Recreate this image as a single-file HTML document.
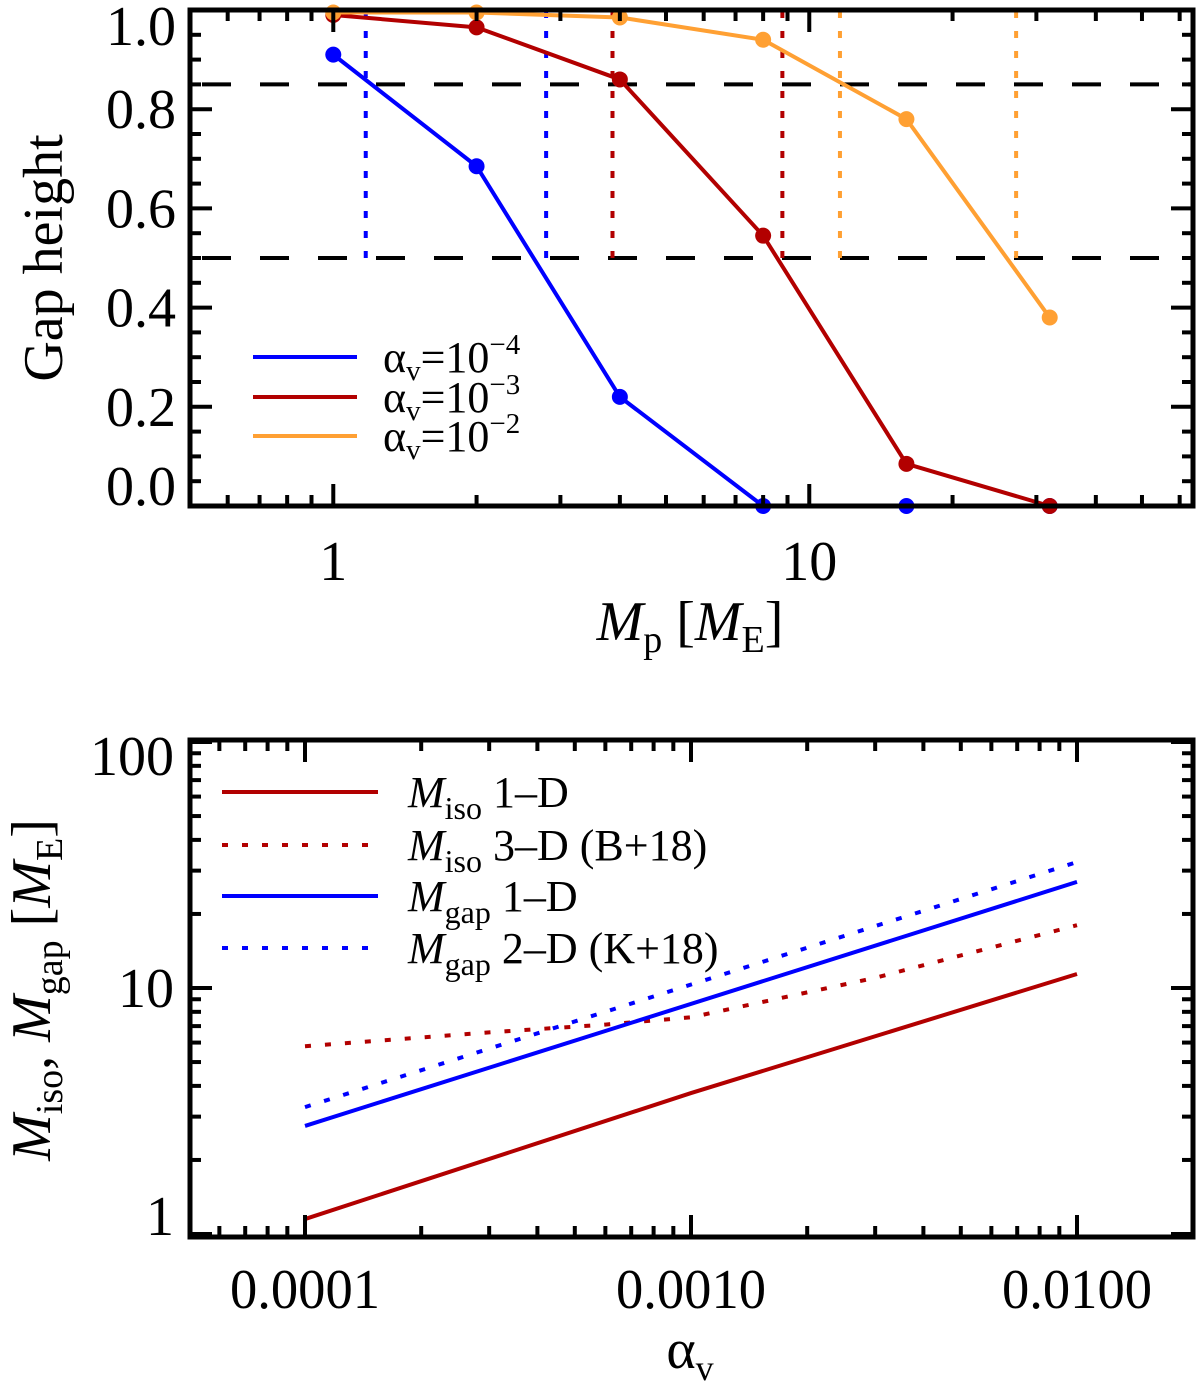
<!DOCTYPE html>
<html><head><meta charset="utf-8"><style>
html,body{margin:0;padding:0;background:#fff;}
svg{display:block;font-family:"Liberation Serif","DejaVu Serif",serif;}
</style></head><body>
<svg id="fig" width="1200" height="1384" viewBox="0 0 1200 1384" xmlns="http://www.w3.org/2000/svg"></svg>
<script>
// ---- Top panel data ----
const topMasses = [1, 2, 4, 8, 16, 32];
const gapLowVisc = [0.91, 0.685, 0.22, 0.0, 0.0, 0.0];
const gapMidVisc = [0.99, 0.965, 0.86, 0.545, 0.085, 0.0];
const gapHighVisc = [0.995, 0.995, 0.985, 0.94, 0.78, 0.38];
const gapThresholds = [0.85, 0.5];
const critLowVisc = [1.17, 2.8];
const critMidVisc = [3.86, 8.78];
const critHighVisc = [11.6, 27.2];
const topYTicks = [0.0, 0.2, 0.4, 0.6, 0.8, 1.0];
const topYLabels = ["0.0", "0.2", "0.4", "0.6", "0.8", "1.0"];
const topXTicks = [1, 10];
const topXLabels = ["1", "10"];
// ---- Bottom panel data ----
const alphaIso1D = [1e-4, 1e-3, 1e-2];
const mIso1D = [1.15, 3.74, 11.4];
const alphaIso3D = [1e-4, 3e-4, 6e-4, 1e-3, 3e-3, 1e-2];
const mIso3D = [5.8, 6.6, 7.1, 7.6, 11.0, 18.0];
const alphaGap1D = [1e-4, 1e-2];
const mGap1D = [2.75, 27.0];
const alphaGap2D = [1e-4, 1e-2];
const mGap2D = [3.28, 32.5];
const botYTicks = [1, 10, 100];
const botYLabels = ["1", "10", "100"];
const botXTicks = [1e-4, 1e-3, 1e-2];
const botXLabels = ["0.0001", "0.0010", "0.0100"];

const NS = "http://www.w3.org/2000/svg";
const svg = document.getElementById("fig");
function mk(tag, attrs, parent) {
  const e = document.createElementNS(NS, tag);
  for (const k in attrs) e.setAttribute(k, attrs[k]);
  (parent || svg).appendChild(e);
  return e;
}
const BLUE = "#0000ff", RED = "#b20000", ORANGE = "#ffa033";

const T = {l:190, r:1193, t:10, b:506};
const tx = v => T.l + (Math.log10(v) - Math.log10(0.5)) / (Math.log10(64) - Math.log10(0.5)) * (T.r - T.l);
const ty = v => T.b - v * (T.b - T.t);
const B = {l:190, r:1193, t:740, b:1237};
const bx = v => 305 + (Math.log10(v) + 4) * 386;
const by = v => 988 - 246 * (Math.log10(v) - 1);

const topG = mk("g", {});



gapThresholds.forEach(v => {
  const l = mk("line", {x1:T.l, x2:T.r, y1:ty(v), y2:ty(v), stroke:"#000", "stroke-width":4, "stroke-dasharray":"29 29", "stroke-dashoffset":"-12"}, topG);
  
  
});
[[critLowVisc, BLUE], [critMidVisc, RED], [critHighVisc, ORANGE]].forEach(([arr, c]) => {
  arr.forEach(m => {
    const l = mk("line", {x1:tx(m), x2:tx(m), y1:ty(0.5), y2:ty(1.0), stroke:c, "stroke-width":4, "stroke-dasharray":"7 13"}, topG);
    
    
  });
});
[[gapLowVisc, BLUE, 'series-alpha-1e-4'], [gapMidVisc, RED, 'series-alpha-1e-3'], [gapHighVisc, ORANGE, 'series-alpha-1e-2']].forEach(([arr, c, n]) => {
  const g = mk("g", {}, topG);
  
  
  const pts = topMasses.map((m, i) => tx(m) + "," + ty(arr[i])).join(" ");
  mk("polyline", {points:pts, fill:"none", stroke:c, "stroke-width":4, "stroke-linejoin":"round"}, g);
  topMasses.forEach((m, i) => {
    const p = mk("circle", {cx:tx(m), cy:ty(arr[i]), r:8, fill:c}, g);
    
    
  });
});
const tf = mk("rect", {x:T.l, y:T.t, width:T.r - T.l, height:T.b - T.t, fill:"none", stroke:"#000", "stroke-width":5}, topG);


for (let k = 0; k <= 20; k++) {
  const v = k * 0.05, y = ty(v), len = (k % 4 === 0) ? 22 : 11;
  mk("line", {x1:T.l, x2:T.l + len, y1:y, y2:y, stroke:"#000", "stroke-width":4}, topG);
  mk("line", {x1:T.r, x2:T.r - len, y1:y, y2:y, stroke:"#000", "stroke-width":4}, topG);
}
topYTicks.forEach((v, i) => {
  let yy = ty(v) + 19;
  if (yy < 45) yy = 45;
  if (yy > 505) yy = 505;
  const t = mk("text", {x:176, y:yy, "font-size":56, "text-anchor":"end"}, topG);
  t.textContent = topYLabels[i];
  
  
});
[0.5,0.6,0.7,0.8,0.9,1,2,3,4,5,6,7,8,9,10,20,30,40,50,60].forEach(m => {
  const x = tx(m), len = (m === 1 || m === 10) ? 22 : 11;
  mk("line", {x1:x, x2:x, y1:T.b, y2:T.b - len, stroke:"#000", "stroke-width":4}, topG);
  mk("line", {x1:x, x2:x, y1:T.t, y2:T.t + len, stroke:"#000", "stroke-width":4}, topG);
});
topXTicks.forEach((v, i) => {
  const t = mk("text", {x:tx(v), y:580, "font-size":56, "text-anchor":"middle"}, topG);
  t.textContent = topXLabels[i];
  
  
});
let tt = mk("text", {x:690, y:640, "font-size":56, "text-anchor":"middle"}, topG);
tt.innerHTML = '<tspan font-style="italic">M</tspan><tspan font-size="38" dy="12">p</tspan><tspan dy="-12"> [</tspan><tspan font-style="italic">M</tspan><tspan font-size="38" dy="12">E</tspan><tspan dy="-12">]</tspan>';


tt = mk("text", {x:0, y:0, "font-size":56, "text-anchor":"middle", transform:"translate(62,258) rotate(-90)"}, topG);
tt.textContent = "Gap height";


[["−4", BLUE, 357], ["−3", RED, 397], ["−2", ORANGE, 436]].forEach(([e, c, y]) => {
  const g = mk("g", {}, topG);
  
  
  mk("line", {x1:253, x2:357, y1:y, y2:y, stroke:c, "stroke-width":4}, g);
  const t = mk("text", {x:383, y:y + 15, "font-size":44}, g);
  t.innerHTML = 'α<tspan font-size="29" dy="8">v</tspan><tspan dy="-8">=10</tspan><tspan font-size="29" dy="-18">' + e + '</tspan>';
});

// ---- Bottom panel ----
const botG = mk("g", {});


[[alphaIso1D, mIso1D, RED, null, 'line-miso-1d'], [alphaIso3D, mIso3D, RED, "6 14", 'line-miso-3d'],
 [alphaGap1D, mGap1D, BLUE, null, 'line-mgap-1d'], [alphaGap2D, mGap2D, BLUE, "6 14", 'line-mgap-2d']].forEach(([xs, ys, c, d, n]) => {
  const pts = xs.map((a, i) => bx(a) + "," + by(ys[i])).join(" ");
  const attrs = {points:pts, fill:"none", stroke:c, "stroke-width":4};
  if (d) attrs["stroke-dasharray"] = d;
  const p = mk("polyline", attrs, botG);
  
  
});
const bf = mk("rect", {x:B.l, y:B.t, width:B.r - B.l, height:B.b - B.t, fill:"none", stroke:"#000", "stroke-width":5}, botG);


for (let dec = 0; dec < 2; dec++) {
  for (let k = 1; k <= 10; k++) {
    const v = k * Math.pow(10, dec), y = by(v);
    if (y < B.t - 1 || y > B.b + 1) continue;
    const len = (k === 1 || k === 10) ? 22 : 11;
    mk("line", {x1:B.l, x2:B.l + len, y1:y, y2:y, stroke:"#000", "stroke-width":4}, botG);
    mk("line", {x1:B.r, x2:B.r - len, y1:y, y2:y, stroke:"#000", "stroke-width":4}, botG);
  }
}
botYTicks.forEach((v, i) => {
  let yy = by(v) + 19;
  if (yy < 775) yy = 775;
  if (yy > 1235) yy = 1235;
  const t = mk("text", {x:174, y:yy, "font-size":56, "text-anchor":"end"}, botG);
  t.textContent = botYLabels[i];
  
  
});
for (let dec = -5; dec <= -2; dec++) {
  for (let k = 1; k <= 9; k++) {
    const v = k * Math.pow(10, dec), x = bx(v);
    if (x < B.l || x > B.r) continue;
    const len = k === 1 ? 22 : 11;
    mk("line", {x1:x, x2:x, y1:B.b, y2:B.b - len, stroke:"#000", "stroke-width":4}, botG);
    mk("line", {x1:x, x2:x, y1:B.t, y2:B.t + len, stroke:"#000", "stroke-width":4}, botG);
  }
}
botXTicks.forEach((v, i) => {
  const t = mk("text", {x:bx(v), y:1308, "font-size":56, "text-anchor":"middle", textLength:150, lengthAdjust:"spacingAndGlyphs"}, botG);
  t.textContent = botXLabels[i];
  
  
});
tt = mk("text", {x:690, y:1368, "font-size":56, "text-anchor":"middle"}, botG);
tt.innerHTML = 'α<tspan font-size="36" dy="12">v</tspan>';


tt = mk("text", {x:0, y:0, "font-size":56, "text-anchor":"middle", transform:"translate(50,990) rotate(-90)"}, botG);
tt.innerHTML = '<tspan font-style="italic">M</tspan><tspan font-size="38" dy="12">iso</tspan><tspan dy="-12">, </tspan><tspan font-style="italic">M</tspan><tspan font-size="38" dy="12">gap</tspan><tspan dy="-12"> [</tspan><tspan font-style="italic">M</tspan><tspan font-size="38" dy="12">E</tspan><tspan dy="-12">]</tspan>';


[[RED, null, "iso", " 1–D", 792], [RED, "6 14", "iso", " 3–D (B+18)", 845], [BLUE, null, "gap", " 1–D", 896], [BLUE, "6 14", "gap", " 2–D (K+18)", 948]].forEach(([c, d, sub, rest, y]) => {
  const g = mk("g", {}, botG);
  
  
  const a = {x1:222, x2:378, y1:y, y2:y, stroke:c, "stroke-width":4};
  if (d) a["stroke-dasharray"] = d;
  mk("line", a, g);
  const t = mk("text", {x:408, y:y + 15, "font-size":44}, g);
  t.innerHTML = '<tspan font-style="italic">M</tspan><tspan font-size="32" dy="12">' + sub + '</tspan><tspan dy="-12">' + rest + '</tspan>';
});
</script>
</body></html>
